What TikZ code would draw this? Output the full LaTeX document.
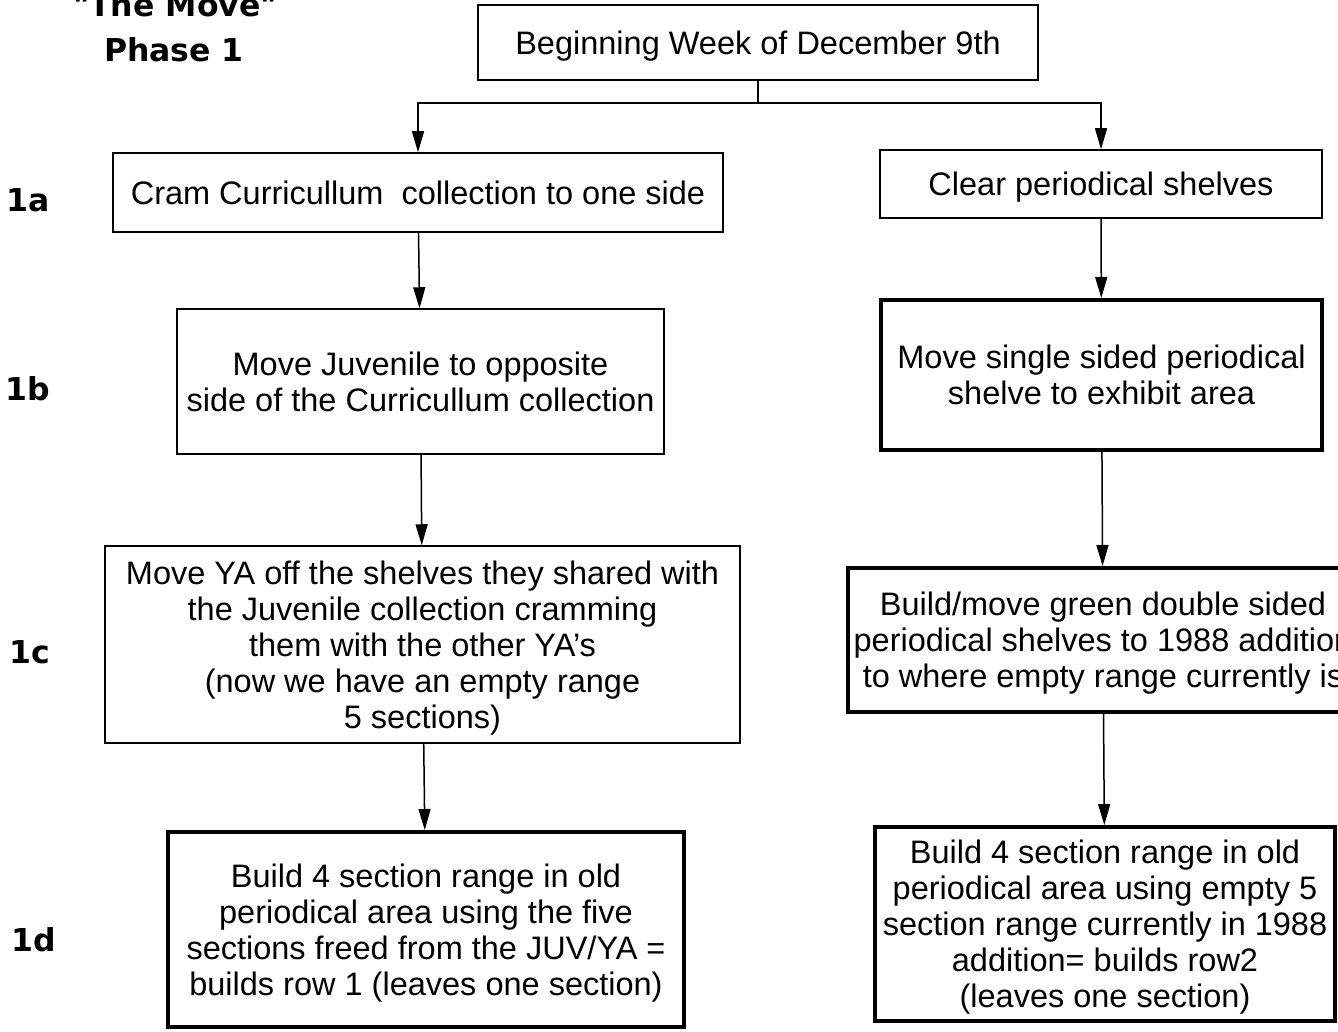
\documentclass[tikz,border=0pt]{standalone}
\usepackage{fontspec}
\setmainfont{Liberation Sans}
\newfontfamily\headfont{DejaVu Sans}
\usetikzlibrary{arrows.meta}

\tikzset{every picture/.style={line width=1.5pt}}
\tikzset{
	stepbox/.style={draw, line width=1.5pt, align=center, inner sep=0pt, text depth=0pt,
		font=\fontsize{32.5}{36}\selectfont},
	stepboxbold/.style={stepbox, line width=4pt},
	rowlabel/.style={font=\headfont\fontsize{31.5}{36}\bfseries\selectfont},
	arr/.style={-{Triangle[length=21pt,width=12pt]}}
}

\begin{document}
\begin{tikzpicture}[x=1pt,y=-1pt]
	\clip (0,0) rectangle (1338,1032); %page size of the scan

	% Heading
	\node[rowlabel] (title) at (175,5) {\textquotedbl The Move\textquotedbl};
	\node[rowlabel] (phase) at (174,50) {Phase 1};

	% Row labels
	\node[rowlabel] (l1a) at (28,200) {1a};
	\node[rowlabel] (l1b) at (28,389) {1b};
	\node[rowlabel] (l1c) at (30,652) {1c};
	\node[rowlabel] (l1d) at (34,940) {1d};

	% Start box
	\node[stepbox, minimum width=560, minimum height=75] (start) at (758,42.5) {Beginning Week of December 9th};

	% Left column
	\node[stepbox, minimum width=610, minimum height=79] (cram) at (418,192.5) {Cram Curricullum\ \ collection to one side};
	\node[stepbox, minimum width=487, minimum height=145] (juv) at (420.5,381.5) {Move Juvenile to opposite\\side of the Curricullum collection};
	\node[stepbox, minimum width=635, minimum height=197] (ya) at (422.5,644.5) {Move YA off the shelves they shared with\\the Juvenile collection cramming\\them with the other YA's\\(now we have an empty range\\5 sections)};
	\node[stepboxbold, minimum width=516, minimum height=195] (rowone) at (426,929.5) {Build 4 section range in old\\periodical area using the five\\sections freed from the JUV/YA =\\builds row 1 (leaves one section)};

	% Right column
	\node[stepbox, minimum width=442, minimum height=68] (clear) at (1101,184) {Clear periodical shelves};
	\node[stepboxbold, minimum width=441, minimum height=150] (single) at (1101.5,375) {Move single sided periodical\\shelve to exhibit area};
	\node[stepboxbold, minimum width=510, minimum height=144] (green) at (1103,640) {Build/move green double sided\\periodical shelves to 1988 addition\\to where empty range currently is};
	\node[stepboxbold, minimum width=460, minimum height=194] (rowtwo) at (1105,924) {Build 4 section range in old\\periodical area using empty 5\\section range currently in 1988\\addition= builds row2\\(leaves one section)};

	% Connectors
	\coordinate (split) at (758,103);
	\draw (start.south) -- (split);
	\draw[arr] (split) -| (cram.north);
	\draw[arr] (split) -| (clear.north);
	\draw[arr] (cram) -- (juv);
	\draw[arr] (juv) -- (ya);
	\draw[arr] (ya) -- (rowone);
	\draw[arr] (clear) -- (single);
	\draw[arr] (single) -- (green);
	\draw[arr] (green) -- (rowtwo);

\end{tikzpicture}
\end{document}
